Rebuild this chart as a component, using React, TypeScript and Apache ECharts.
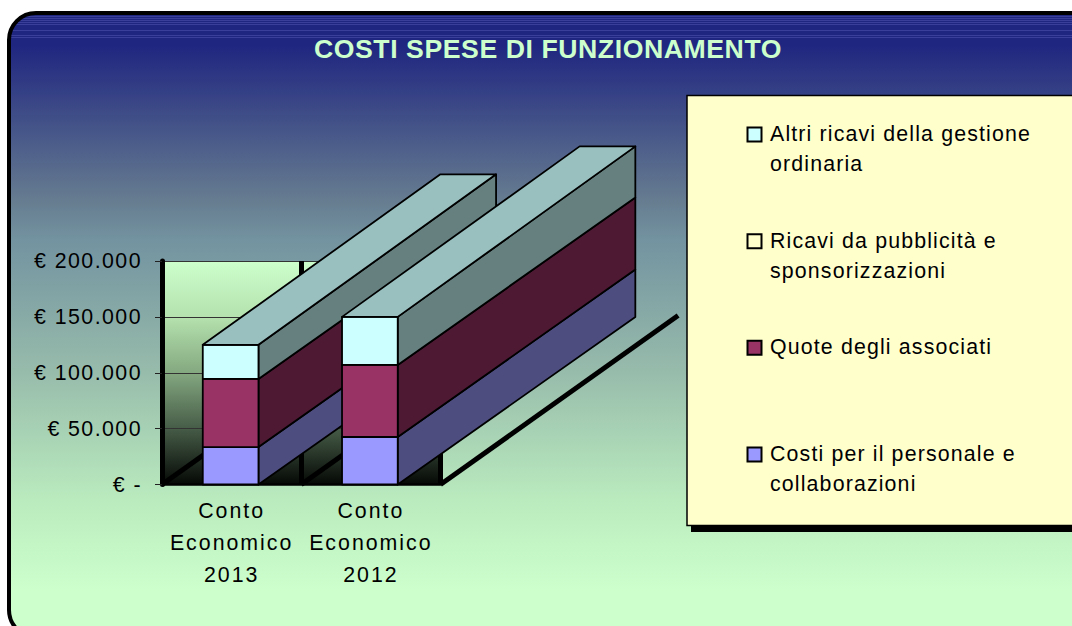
import React, { useEffect, useRef } from "react";
import * as echarts from "echarts";

// ---- data ----
const categories = ["Conto\nEconomico\n2013", "Conto\nEconomico\n2012"];
const costiPersonale = [33500, 42500];
const quoteAssociati = [61000, 64500];
const ricaviPubblicita = [0, 0];
const altriRicavi = [30500, 43000];
const yTickValues = [0, 50000, 100000, 150000, 200000];
const yTickLabels = ["€ -", "€ 50.000", "€ 100.000", "€ 150.000", "€ 200.000"];
const chartTitle = "COSTI SPESE DI FUNZIONAMENTO";
const seriesNames = [
  "Costi per il personale e\ncollaborazioni",
  "Quote degli associati",
  "Ricavi da pubblicità e\nsponsorizzazioni",
  "Altri ricavi della gestione\nordinaria",
];
const seriesValues = [costiPersonale, quoteAssociati, ricaviPubblicita, altriRicavi];

// ---- styles ----
const frontColors = ["#9999FF", "#993366", "#FFFFCC", "#CCFFFF"];
const sideColors = ["#4D4D80", "#4D1933", "#808080", "#668080"];
const topColors = ["#7373BF", "#73264D", "#BFBFBF", "#99BFBF"];
const legendOrder = [3, 2, 1, 0];
const bandRows = [17, 19, 21, 23, 25, 31, 35, 37];

const DEPTH_X = 237.6;
const DEPTH_Y_LOW = -167.5;
const DEPTH_Y_TOP = -170.5;
const DEPTH_Y_FLOOR = -169;
const BAR_SHIFT = -1;
const BG_Y = 13;
const BG_H = 624;
const FONT = "Liberation Sans";
const X_LABEL_INK = "#000001";
const Y_LABEL_INK = "#000002";
const LEGEND_INK = "#000003";

function buildBgGradient() {
  const off = (y: number) => (y - BG_Y) / BG_H;
  const base = "#1F2680";
  const band = "#3A409A";
  const stops: { offset: number; color: string }[] = [{ offset: 0, color: base }];
  bandRows.forEach((y) => {
    stops.push({ offset: off(y - 0.5), color: base });
    stops.push({ offset: off(y - 0.5), color: band });
    stops.push({ offset: off(y + 0.5), color: band });
    stops.push({ offset: off(y + 0.5), color: base });
  });
  stops.push({ offset: off(45), color: base });
  stops.push({ offset: off(200), color: "#667C90" });
  stops.push({ offset: off(240), color: "#7393A0" });
  stops.push({ offset: off(370), color: "#97BBAB" });
  stops.push({ offset: off(500), color: "#BAEBBE" });
  stops.push({ offset: off(590), color: "#CCFFCC" });
  stops.push({ offset: 1, color: "#CCFFCC" });
  return new echarts.graphic.LinearGradient(0, 0, 0, 1, stops);
}

function renderStack(stackIndex: number) {
  return (params: any, api: any) => {
    const cat = api.value(0);
    const start = api.value(1);
    const end = api.value(2);
    if (end <= start) return { type: "group", children: [] };
    const band = api.size([1, 0])[0];
    const half = band * 0.2;
    const [cx0, y0] = api.coord([cat, start]);
    const [, y1] = api.coord([cat, end]);
    const cx = cx0 + BAR_SHIFT;
    const l = cx - half;
    const r = cx + half;
    const z = cat * 10 + stackIndex;
    const edge = { stroke: "#000", lineWidth: 1.8, lineJoin: "round" };
    const upperDepth = stackIndex === 3 ? DEPTH_Y_TOP : DEPTH_Y_LOW;
    const children: any[] = [
      {
        type: "polygon",
        z2: z,
        shape: { points: [[r, y0], [r + DEPTH_X, y0 + DEPTH_Y_LOW], [r + DEPTH_X, y1 + upperDepth], [r, y1]] },
        style: { fill: sideColors[stackIndex], ...edge },
      },
      {
        type: "polygon",
        z2: z,
        shape: { points: [[l, y0], [r, y0], [r, y1], [l, y1]] },
        style: { fill: frontColors[stackIndex], ...edge },
      },
    ];
    if (stackIndex === 3) {
      children.push({
        type: "polygon",
        z2: z + 1,
        shape: { points: [[l, y1], [r, y1], [r + DEPTH_X, y1 + DEPTH_Y_TOP], [l + DEPTH_X, y1 + DEPTH_Y_TOP]] },
        style: { fill: topColors[stackIndex], ...edge },
      });
    }
    return { type: "group", children };
  };
}

function renderFloor(params: any, api: any) {
  const i = api.value(0);
  const rect = params.coordSys;
  const x = rect.x + (rect.width / categories.length) * i;
  const y = rect.y + rect.height;
  return {
    type: "line",
    z2: 0,
    shape: { x1: x, y1: y, x2: x + DEPTH_X, y2: y + DEPTH_Y_FLOOR },
    style: { stroke: "#000", lineWidth: 5 },
  };
}

function buildOption() {
  const stackSeries = seriesNames.map((name, s) => ({
    type: "custom",
    name,
    z: 3,
    renderItem: renderStack(s),
    encode: { x: 0, y: [1, 2] },
    data: categories.map((_, c) => {
      let base = 0;
      for (let k = 0; k < s; k++) base += seriesValues[k][c];
      return [c, base, base + seriesValues[s][c]];
    }),
  }));
  const legendItems: any[] = [];
  legendOrder.forEach((s, i) => {
    const cy = 134.5 + i * 106.67;
    legendItems.push({
      type: "rect",
      z: 6,
      shape: { x: 747.5, y: cy - 7, width: 14, height: 14 },
      style: { fill: frontColors[s], stroke: "#000", lineWidth: 2 },
    });
    legendItems.push({
      type: "text",
      z: 6,
      x: 770,
      y: cy - 15.5,
      style: {
        text: seriesNames[s],
        fill: LEGEND_INK,
        fontFamily: FONT,
        fontSize: 21.33,
        lineHeight: 30,
        align: "left",
        verticalAlign: "top",
      },
    });
  });
  return {
    animation: false,
    title: {
      text: chartTitle,
      left: 543,
      top: 30,
      textAlign: "center",
      textStyle: { color: "#CCFFCC", fontFamily: FONT, fontSize: 26.67, fontWeight: "bold" },
    },
    tooltip: { show: false },
    grid: {
      show: true,
      left: 162,
      top: 261,
      width: 278.5,
      height: 223.5,
      borderWidth: 0,
      backgroundColor: new echarts.graphic.LinearGradient(0, 0, 0, 1, [
        { offset: 0, color: "#CCFFCC" },
        { offset: 0.25, color: "#B5E2AE" },
        { offset: 0.5, color: "#84A880" },
        { offset: 0.75, color: "#465C47" },
        { offset: 1, color: "#050805" },
      ]),
    },
    xAxis: {
      type: "category",
      data: categories,
      axisLine: { show: true, lineStyle: { color: "#000", width: 2.5 } },
      axisTick: { show: false },
      splitLine: { show: true, lineStyle: { color: "#000", width: 5 } },
      axisLabel: {
        color: X_LABEL_INK,
        fontFamily: FONT,
        fontSize: 21.33,
        lineHeight: 32,
        margin: 10,
        interval: 0,
      },
    },
    yAxis: {
      type: "value",
      min: 0,
      max: 200000,
      interval: 50000,
      axisLine: { show: true, lineStyle: { color: "#000", width: 5 } },
      axisTick: { show: true, length: 7, lineStyle: { color: "#222", width: 1 } },
      splitLine: { show: true, lineStyle: { color: "#333", width: 1 } },
      axisLabel: {
        color: Y_LABEL_INK,
        fontFamily: FONT,
        fontSize: 21.33,
        margin: 20,
        formatter: (v: number) => yTickLabels[yTickValues.indexOf(v)],
      },
    },
    graphic: {
      elements: [
        {
          type: "rect",
          z: -10,
          shape: { x: 9, y: BG_Y, width: 1120, height: BG_H, r: 27 },
          style: { fill: buildBgGradient(), stroke: "#000", lineWidth: 4 },
        },
        {
          type: "rect",
          z: 4,
          shape: { x: 691, y: 100, width: 400, height: 432 },
          style: { fill: "#000" },
        },
        {
          type: "rect",
          z: 5,
          shape: { x: 687, y: 95.5, width: 400, height: 430 },
          style: { fill: "#FFFFCC", stroke: "#000", lineWidth: 1.5 },
        },
        ...legendItems,
      ],
    },
    series: [
      {
        type: "custom",
        name: "floor",
        z: 2,
        silent: true,
        renderItem: renderFloor,
        encode: { x: 0 },
        data: [[0], [1], [2]],
      },
      ...stackSeries,
    ],
  };
}

export default function App() {
  const ref = useRef<HTMLDivElement>(null);
  useEffect(() => {
    const chart = echarts.init(ref.current!, undefined, { renderer: "svg" });
    chart.setOption(buildOption() as any);
    return () => chart.dispose();
  }, []);
  return (
    <>
      <style>{`html,body{margin:0;padding:0;background:#fff;overflow:hidden}
      .chart text{letter-spacing:0.55px}
      .chart text[fill="${X_LABEL_INK}"]{letter-spacing:2px}
      .chart text[fill="${Y_LABEL_INK}"]{letter-spacing:1.45px}
      .chart text[fill="${LEGEND_INK}"]{letter-spacing:1.15px}`}</style>
      <div ref={ref} className="chart" style={{ position: "absolute", left: 0, top: 0, width: 1072, height: 626 }} />
    </>
  );
}
